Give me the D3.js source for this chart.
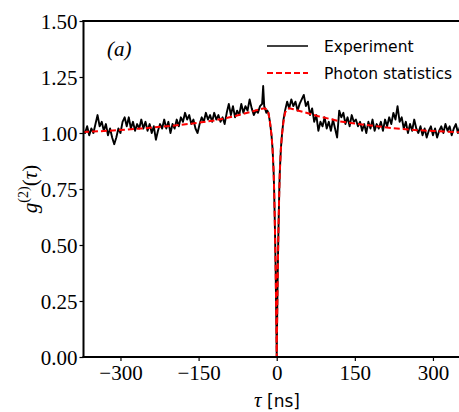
<!DOCTYPE html>
<html><head><meta charset="utf-8">
<script src="https://cdn.jsdelivr.net/npm/d3@7"></script>
<style>body{margin:0;background:#fff;overflow:hidden}</style>
</head><body><svg id="c" width="459" height="412"></svg>
<script>
const xTicks = [-300, -150, 0, 150, 300];
const yTicks = [0, 0.25, 0.5, 0.75, 1.0, 1.25, 1.5];
const yTickLabels = ["0.00", "0.25", "0.50", "0.75", "1.00", "1.25", "1.50"];
const legendLabels = ["Experiment", "Photon statistics"];

// Experiment: [tau (ns), g2]
const experiment = [
[-372,1.01],[-368,1.00],[-364,1.03],[-360,0.99],[-356,1.02],[-352,1.00],[-348,1.04],[-344,1.08],[-340,1.03],[-336,1.05],
[-332,1.01],[-328,1.04],[-324,0.99],[-320,1.02],[-316,0.98],[-312,0.95],[-308,0.98],[-304,1.02],[-300,1.00],[-296,1.05],
[-292,1.07],[-288,1.03],[-284,1.07],[-280,1.02],[-276,1.05],[-272,1.01],[-268,1.04],[-264,1.02],[-260,1.06],[-256,1.02],
[-252,1.05],[-248,1.01],[-244,1.04],[-240,1.00],[-236,1.03],[-232,0.97],[-228,1.01],[-224,1.04],[-220,1.02],[-216,1.06],
[-212,1.02],[-208,1.05],[-204,1.00],[-200,1.04],[-196,1.02],[-192,1.06],[-188,1.03],[-184,1.07],[-180,1.05],[-176,1.09],
[-172,1.06],[-168,1.08],[-164,1.04],[-160,1.06],[-156,1.02],[-152,1.00],[-148,1.04],[-144,1.07],[-140,1.05],[-136,1.09],
[-132,1.06],[-128,1.08],[-124,1.05],[-120,1.09],[-116,1.06],[-112,1.08],[-108,1.05],[-104,1.07],[-100,1.04],[-96,1.09],
[-92,1.13],[-88,1.08],[-84,1.12],[-80,1.07],[-76,1.10],[-72,1.08],[-68,1.13],[-64,1.09],[-60,1.12],[-56,1.10],
[-52,1.15],[-48,1.11],[-44,1.08],[-40,1.10],[-36,1.09],[-32,1.12],[-28,1.13],[-26,1.21],[-24,1.12],[-20,1.09],
[-18,1.10],[-16,1.09],[-13,1.05],[-10,0.99],[-8,0.93],[-6,0.83],[-5,0.75],[-4,0.64],[-3,0.52],[-2,0.38],[-1,0.20],
[0,0.00],[1,0.20],[2,0.38],[3,0.52],[4,0.64],[5,0.75],[6,0.83],[8,0.93],[10,0.99],[13,1.06],
[16,1.10],[20,1.14],[24,1.11],[28,1.15],[32,1.12],[36,1.14],[40,1.10],[44,1.13],[48,1.15],[52,1.17],
[56,1.12],[60,1.14],[64,1.08],[68,1.11],[72,1.05],[76,1.08],[80,1.01],[84,1.05],[88,1.03],[92,1.07],
[96,1.02],[100,1.05],[104,1.01],[108,1.06],[112,1.02],[116,0.98],[120,1.10],[124,1.07],[128,1.09],[132,1.04],
[136,1.07],[140,1.03],[144,1.08],[148,1.05],[152,1.06],[156,1.03],[160,1.05],[164,1.01],[168,1.04],[172,1.00],
[176,1.05],[180,1.02],[184,1.06],[188,1.01],[192,1.04],[196,1.02],[200,1.05],[204,1.01],[208,1.06],[212,1.03],
[216,1.07],[220,1.04],[224,1.09],[228,1.06],[232,1.12],[236,1.05],[240,1.07],[244,1.02],[248,1.05],[252,1.00],
[256,1.04],[260,1.01],[264,1.06],[268,1.02],[272,1.00],[276,1.03],[280,0.99],[284,1.02],[288,0.98],[292,1.01],
[296,1.03],[300,0.99],[304,1.02],[308,0.98],[312,1.01],[316,1.03],[320,1.00],[324,1.04],[328,1.01],[332,1.03],
[336,0.99],[340,1.02],[344,1.04],[348,1.00],[352,1.03],[356,1.01],[360,1.04],[364,1.00],[368,1.02],[372,1.01]
];

// Photon statistics model: [tau (ns), g2]
const model = [
[-372,1.004],[-340,1.008],[-300,1.013],[-260,1.020],[-220,1.028],[-186,1.036],[-150,1.046],[-120,1.056],[-100,1.065],
[-80,1.076],[-60,1.088],[-44,1.098],[-32,1.106],[-24,1.110],[-19,1.105],[-16,1.090],[-13,1.050],[-10,0.990],[-8,0.930],
[-6,0.830],[-5,0.750],[-4,0.640],[-3,0.520],[-2,0.380],[-1,0.200],[0,0.000],[1,0.200],[2,0.380],[3,0.520],[4,0.640],
[5,0.750],[6,0.830],[8,0.930],[10,0.990],[13,1.050],[16,1.090],[19,1.105],[24,1.110],[32,1.106],[44,1.098],[60,1.088],
[80,1.075],[100,1.064],[121,1.052],[150,1.042],[186,1.032],[224,1.021],[260,1.014],[300,1.009],[346,1.004],[372,1.003]
];

const svg = d3.select("#c");
const mLeft = 83.5, mTop = 21, mBottom = 357;
const x = d3.scaleLinear().domain([-371, 371]).range([mLeft, mLeft + 742 * 0.5208]);
const y = d3.scaleLinear().domain([0, 1.5]).range([mBottom, mTop]);
const mRight = x(371);

svg.append("clipPath").attr("id", "clip").append("rect")
  .attr("x", mLeft).attr("y", mTop).attr("width", mRight - mLeft).attr("height", mBottom - mTop);

const line = d3.line().x(d => x(d[0])).y(d => y(d[1]));

const plot = svg.append("g").attr("clip-path", "url(#clip)");
plot.append("path").datum(experiment).attr("d", line)
  .attr("fill", "none").attr("stroke", "#000").attr("stroke-width", 1.9).attr("stroke-linejoin", "round");
plot.append("path").datum(model).attr("d", line)
  .attr("fill", "none").attr("stroke", "#ff0000").attr("stroke-width", 2).attr("stroke-dasharray", "6,3");

// axes
const serif = "'Liberation Serif', 'DejaVu Serif', serif";
const xAxis = svg.append("g").attr("transform", `translate(0,${mBottom})`)
  .call(d3.axisBottom(x).tickValues(xTicks).tickSize(4).tickSizeOuter(0).tickFormat(d3.format("d")));
const yAxis = svg.append("g").attr("transform", `translate(${mLeft},0)`)
  .call(d3.axisLeft(y).tickValues(yTicks).tickSize(4).tickSizeOuter(0).tickFormat((d, i) => yTickLabels[i]));
[xAxis, yAxis].forEach(a => {
  a.select(".domain").remove();
  a.selectAll(".tick line").attr("stroke", "#000").attr("stroke-width", 1.2);
  a.selectAll(".tick text").attr("font-family", serif).attr("font-size", 21).attr("fill", "#000");
});
xAxis.selectAll(".tick text").attr("y", 8).attr("dy", "0.71em");
yAxis.selectAll(".tick text").attr("x", -6).attr("dy", "0.34em");

// spines
const spine = (x1, y1, x2, y2) => svg.append("line").attr("x1", x1).attr("y1", y1).attr("x2", x2).attr("y2", y2)
  .attr("stroke", "#000").attr("stroke-width", 2).attr("stroke-linecap", "square");
spine(mLeft, mTop, mLeft, mBottom);
spine(mLeft, mBottom, mRight, mBottom);
spine(mLeft, mTop, mRight, mTop);
spine(mRight, mTop, mRight, mBottom);

// panel label
svg.append("text").attr("x", 107).attr("y", 56).attr("font-family", serif)
  .attr("font-style", "italic").attr("font-size", 21).text("(a)");

// legend
const sans = "'DejaVu Sans', sans-serif";
const lg = svg.append("g");
[0, 1].forEach(i => {
  const yy = 46 + i * 27;
  lg.append("line").attr("x1", 267).attr("x2", 308).attr("y1", yy).attr("y2", yy)
    .attr("stroke", i === 0 ? "#000" : "#ff0000").attr("stroke-width", i === 0 ? 1.7 : 2)
    .attr("stroke-dasharray", i === 0 ? null : "6,3");
  lg.append("text").attr("x", 324).attr("y", yy + 5.5).attr("font-family", sans)
    .attr("font-size", 15.5).attr("fill", "#000").text(legendLabels[i]);
});

// x label
const xl = svg.append("text").attr("x", 277).attr("y", 407).attr("text-anchor", "middle").attr("fill", "#000");
xl.append("tspan").attr("font-family", serif).attr("font-style", "italic").attr("font-size", 21).text("τ");
xl.append("tspan").attr("font-family", sans).attr("font-size", 17).text(" [ns]");

// y label
const yl = svg.append("text").attr("transform", "translate(37,189) rotate(-90)")
  .attr("text-anchor", "middle").attr("fill", "#000").attr("font-family", serif).attr("font-size", 21);
yl.append("tspan").attr("font-style", "italic").text("g");
yl.append("tspan").attr("font-size", 14).attr("dy", -9).text("(2)");
yl.append("tspan").attr("dy", 9).text("(");
yl.append("tspan").attr("font-style", "italic").text("τ");
yl.append("tspan").text(")");
</script>
</body></html>
